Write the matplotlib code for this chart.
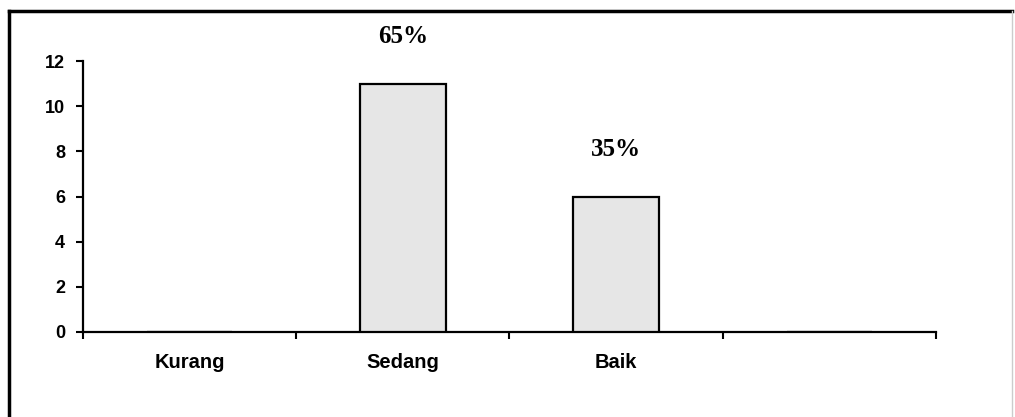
import numpy as np
from matplotlib import pyplot as plt
from matplotlib.lines import Line2D

plt.rcParams["font.family"] = ["Liberation Sans", "DejaVu Sans"]
plt.rcParams["font.weight"] = "bold"

# Data kategori
categories = ["Kurang", "Sedang", "Baik", ""]
values = [0, 11, 6, 0]
percent_labels = ["", "65%", "35%", ""]

fig = plt.figure(figsize=(10.15, 4.17), dpi=100)
ax = fig.add_axes([83 / 1015, 1 - 332 / 417, (936 - 83) / 1015, (332 - 61) / 417])

x = np.arange(len(categories))
ax.bar(x, values, width=0.4, color="#e6e6e6", edgecolor="black", linewidth=1.6, zorder=3)

# Label persentase di atas batang
for xi, v, lab in zip(x, values, percent_labels):
    if lab:
        ax.text(xi, v + 2.1, lab, ha="center", va="center", fontsize=18,
                fontweight="bold", family="Liberation Serif")

ax.set_xlim(-0.5, len(categories) - 0.5)
ax.set_ylim(0, 12)
ax.set_yticks(np.arange(0, 13, 2))

# Tick mayor di batas kategori, label di tengah
ax.set_xticks(np.arange(-0.5, len(categories), 1.0))
ax.set_xticklabels([])
ax.set_xticks(x, minor=True)
ax.set_xticklabels(categories, minor=True)
ax.tick_params(axis="x", which="major", direction="out", length=5, width=1.5)
ax.tick_params(axis="x", which="minor", length=0, pad=15, labelsize=14.5)
ax.tick_params(axis="y", direction="out", length=5, width=1.5, pad=8, labelsize=13)

for side in ["top", "right"]:
    ax.spines[side].set_visible(False)
ax.spines["left"].set_linewidth(1.6)
ax.spines["bottom"].set_linewidth(1.6)

# Bingkai luar
fx0, fx1 = 9 / 1015, 1012 / 1015
fy1 = 1 - 11 / 417
fig.add_artist(Line2D([fx0, fx0], [0, fy1], color="black", linewidth=2.5, transform=fig.transFigure))
fig.add_artist(Line2D([fx0, fx1], [fy1, fy1], color="black", linewidth=2.5, transform=fig.transFigure))
fig.add_artist(Line2D([fx1, fx1], [0, fy1], color="#cccccc", linewidth=1, transform=fig.transFigure))

fig.savefig("out.png", dpi=100)
